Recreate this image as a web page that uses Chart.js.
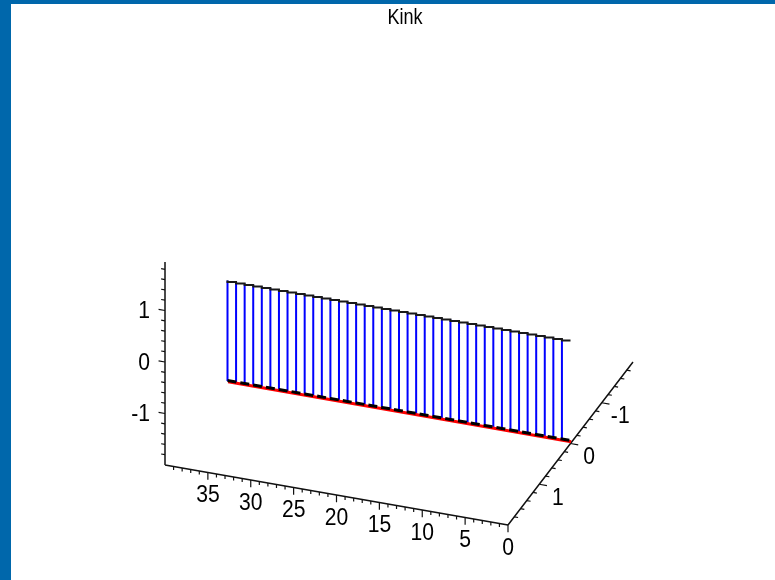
<!DOCTYPE html>
<html>
<head>
<meta charset="utf-8">
<script src="https://cdn.jsdelivr.net/npm/chart.js@4.4.1/dist/chart.umd.min.js"></script>
<style>
  html, body { margin: 0; padding: 0; background: #0067ab; overflow: hidden; }
  #kink { position: absolute; left: 11px; top: 4px; background: #fff; }
</style>
</head>
<body>
<canvas id="kink" width="764" height="576"></canvas>
<script>
// Данни: крива "Kink" - по една стъпка за всяко t
const tValues   = [0, 1, 2, 3, 4, 5, 6, 7, 8, 9, 10, 11, 12, 13, 14, 15, 16, 17, 18, 19, 20,
                   21, 22, 23, 24, 25, 26, 27, 28, 29, 30, 31, 32, 33, 34, 35, 36, 37, 38, 39, 40];
const kinkY     = [0, 0, 0, 0, 0, 0, 0, 0, 0, 0, 0, 0, 0, 0, 0, 0, 0, 0, 0, 0, 0,
                   0, 0, 0, 0, 0, 0, 0, 0, 0, 0, 0, 0, 0, 0, 0, 0, 0, 0, 0, 0];
const kinkTop   = [0, 0, 0, 0, 0, 0, 0, 0, 0, 0, 0, 0, 0, 0, 0, 0, 0, 0, 0, 0, 0,
                   0, 0, 0, 0, 0, 0, 0, 0, 0, 0, 0, 0, 0, 0, 0, 0, 0, 0, 0, 0];
const kinkLow   = [-1.95, -1.95, -1.95, -1.95, -1.95, -1.95, -1.95, -1.95, -1.95, -1.95, -1.95,
                   -1.95, -1.95, -1.95, -1.95, -1.95, -1.95, -1.95, -1.95, -1.95, -1.95,
                   -1.95, -1.95, -1.95, -1.95, -1.95, -1.95, -1.95, -1.95, -1.95, -1.95,
                   -1.95, -1.95, -1.95, -1.95, -1.95, -1.95, -1.95, -1.95, -1.95, -1.95];

// Обхват на рамката и етикети на осите
const xRange = [0, 40];
const yRange = [-2, 2];
const zRange = [-2, 1.94];
const xTickLabels = [0, 5, 10, 15, 20, 25, 30, 35];
const yTickLabels = [-1, 0, 1];
const zTickLabels = [-1, 0, 1];
const xMinorTicks = [1, 2, 3, 4, 6, 7, 8, 9, 11, 12, 13, 14, 16, 17, 18, 19, 21, 22, 23, 24,
                     26, 27, 28, 29, 31, 32, 33, 34, 36, 37, 38, 39];
const yMinorTicks = [-1.8, -1.6, -1.4, -1.2, -0.8, -0.6, -0.4, -0.2, 0.2, 0.4, 0.6, 0.8,
                     1.2, 1.4, 1.6, 1.8];
const zMinorTicks = [-1.8, -1.6, -1.4, -1.2, -0.8, -0.6, -0.4, -0.2, 0.2, 0.4, 0.6, 0.8,
                     1.2, 1.4, 1.6, 1.8];
const titleText = 'Kink';

// Ортогонална проекция (3D -> координати на страницата)
function proj(x, y, z) {
    return {
        x: 508 - 8.575 * x - 31.25 * (y - 2),
        y: 525 - 1.5 * x + 40.75 * (y - 2) - 51.5 * (z + 2)
    };
}
const GAP = { x: NaN, y: NaN };

function lineSet(points, color, width, extra) {
    return Object.assign({
        data: points,
        showLine: true,
        borderColor: color,
        borderWidth: width,
        pointRadius: 0,
        clip: false,
        spanGaps: false
    }, extra || {});
}

// Оси на рамката
const axisPts = [
    proj(xRange[1], yRange[1], zRange[0]), proj(xRange[1], yRange[1], zRange[1]), GAP,
    proj(xRange[0], yRange[1], zRange[0]), proj(xRange[1], yRange[1], zRange[0]), GAP,
    proj(xRange[0], yRange[1], zRange[0]), proj(xRange[0], yRange[0], zRange[0])
];

// Чертички
const tickPts = [];
function tick(a, b) { tickPts.push(a, b, GAP); }
xTickLabels.forEach(v => tick(proj(v, 2, -2), proj(v, 2, -2.14)));
xMinorTicks.forEach(v => tick(proj(v, 2, -2), proj(v, 2, -2.07)));
yTickLabels.forEach(v => tick(proj(0, v, -2), proj(-0.9, v, -2)));
yMinorTicks.forEach(v => tick(proj(0, v, -2), proj(-0.45, v, -2)));
zTickLabels.forEach(v => tick(proj(40, 2, v), proj(40.75, 2, v)));
zMinorTicks.forEach(v => tick(proj(40, 2, v), proj(40.45, 2, v)));

// Вертикални сини линии (без t = 0)
const stemPts = [];
tValues.forEach((t, i) => {
    if (t === 0) return;
    stemPts.push(proj(t, kinkY[i], kinkTop[i]), proj(t, kinkY[i], kinkLow[i]), GAP);
});

const topPts = tValues.map((t, i) => proj(t, kinkY[i], kinkTop[i])).reverse();
const lowPts = tValues.map((t, i) => proj(t, kinkY[i], kinkLow[i] + 0.01)).reverse();
const lowRedPts = tValues.map((t, i) => proj(t, kinkY[i] - 0.02, kinkLow[i] - 0.03)).reverse();

const labelPlugin = {
    id: 'labels3d',
    afterDatasetsDraw(chart) {
        const c = chart.ctx;
        const sx = chart.scales.x, sy = chart.scales.y;
        const px = p => sx.getPixelForValue(p.x);
        const py = p => sy.getPixelForValue(p.y);
        const text = (s, x, y, align, size, squeeze) => {
            c.save();
            c.font = size + 'px "Liberation Sans", Arial, sans-serif';
            c.textAlign = align;
            c.translate(x, y);
            c.scale(squeeze, 1);
            c.fillText(s, 0, 0);
            c.restore();
        };
        c.save();
        c.fillStyle = '#000';
        c.textBaseline = 'middle';
        xTickLabels.forEach(v => {
            const p = proj(v, 2, -2);
            text(String(v), px(p), py(p) + 23, 'center', 24, 0.88);
        });
        yTickLabels.forEach(v => {
            const p = proj(0, v, -2);
            text(String(v), px(p) + 18.5, py(p) + 14, 'center', 24, 0.88);
        });
        zTickLabels.forEach(v => {
            const p = proj(40, 2, v);
            text(String(v), px(p) - 15, py(p) + 1, 'right', 24, 0.88);
        });
        text(titleText, sx.getPixelForValue(405), sy.getPixelForValue(18), 'center', 22, 0.82);
        c.restore();
    }
};

// Chart.js рисува dataset 0 най-отгоре, затова редът е обърнат
new Chart(document.getElementById('kink').getContext('2d'), {
    type: 'scatter',
    data: {
        datasets: [
            lineSet(lowPts, '#000', 3, { borderDash: [9, 4] }),
            lineSet(lowRedPts, '#ff0000', 3),
            lineSet(topPts, '#1a1a1a', 2, { stepped: 'after' }),
            lineSet(stemPts, '#0000ff', 2),
            lineSet(tickPts, '#111', 1.2),
            lineSet(axisPts, '#111', 1.5)
        ]
    },
    options: {
        responsive: false,
        animation: false,
        devicePixelRatio: 1,
        layout: { padding: 0 },
        plugins: {
            legend: { display: false },
            tooltip: { enabled: false },
            title: { display: false }
        },
        scales: {
            x: { type: 'linear', display: false, min: 11, max: 775 },
            y: { type: 'linear', display: false, min: 4, max: 580, reverse: true }
        }
    },
    plugins: [labelPlugin]
});
</script>
</body>
</html>
